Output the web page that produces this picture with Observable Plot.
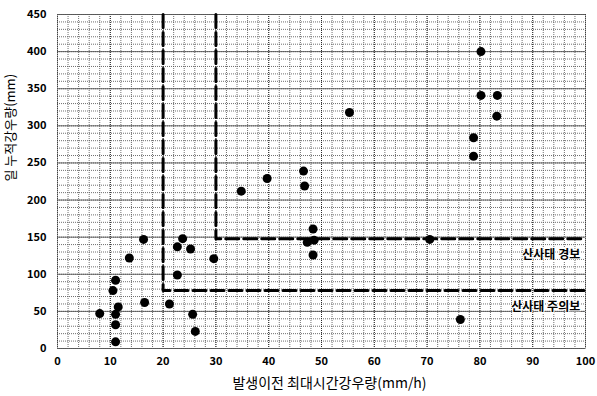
<!DOCTYPE html>
<html>
<head>
<meta charset="utf-8">
<script src="https://cdn.jsdelivr.net/npm/d3@7"></script>
<script src="https://cdn.jsdelivr.net/npm/@observablehq/plot@0.6"></script>
<style>
  html, body { margin: 0; padding: 0; background: #fff; }
  #chart svg { display: block; }
</style>
</head>
<body>
<div id="chart"></div>
<script>
// Observed events: max hourly rainfall before occurrence (mm/h), cumulative rainfall (mm)
const hourlyRain = [8, 10.5, 11, 11.5, 11, 11, 11, 13.6, 16.3, 16.5, 21.2, 22.7, 22.7, 23.7, 25.2, 25.6, 26.1,
  29.6, 34.8, 39.7, 46.6, 46.8, 48.4, 47.3, 48.6, 48.4, 55.3, 70.5, 76.3, 80.2, 80.2, 83.3, 83.2, 78.8, 78.8];
const cumRain = [47, 78, 92, 56, 46, 32, 9, 122, 147, 62, 60, 99, 137, 148, 134, 46, 23,
  121, 212, 229, 239, 219, 161, 143, 146, 126, 318, 147, 39, 400, 341, 341, 313, 284, 259];

// Threshold lines
const advisoryX = 20, advisoryY = 78;   // 산사태 주의보
const warningX = 30, warningY = 148;    // 산사태 경보
const yTop = 450, xRight = 100;

const xTicks = d3.range(0, 101, 10);
const yTicks = d3.range(0, 451, 50);
const xLabel = "발생이전 최대시간강우량(mm/h)";
const yLabel = "일 누적강우량(mm)";
const warningLabel = "산사태 경보";
const advisoryLabel = "산사태 주의보";

const points = hourlyRain.map((x, i) => ({x, y: cumRain[i]}));
const advisoryLine = [{x: advisoryX, y: yTop}, {x: advisoryX, y: advisoryY}, {x: xRight, y: advisoryY}];
const warningLine = [{x: warningX, y: yTop}, {x: warningX, y: warningY}, {x: xRight, y: warningY}];

const font = "'Noto Sans CJK KR', 'Noto Sans', sans-serif";

const chart = Plot.plot({
  width: 597,
  height: 396,
  marginLeft: 57,
  marginRight: 12,
  marginTop: 14,
  marginBottom: 48,
  style: {fontFamily: font, background: "#fff", color: "#000"},
  x: {domain: [0, 100]},
  y: {domain: [0, 450]},
  marks: [
    // minor grid
    Plot.gridX(d3.range(0, 101, 2), {stroke: "#555", strokeOpacity: 0.85, strokeDasharray: "1,1", strokeWidth: 1}),
    Plot.gridY(d3.range(0, 451, 10), {stroke: "#555", strokeOpacity: 0.85, strokeDasharray: "1,1", strokeWidth: 1}),
    // major grid
    Plot.gridX(xTicks, {stroke: "#222", strokeOpacity: 0.9, strokeDasharray: "1,1", strokeWidth: 1}),
    Plot.gridY(yTicks, {stroke: "#555", strokeOpacity: 0.9, strokeWidth: 1}),
    Plot.frame({stroke: "#555", strokeDasharray: "1,1"}),
    // threshold lines
    Plot.line(advisoryLine, {x: "x", y: "y", stroke: "#000", strokeWidth: 3, strokeDasharray: "13,5"}),
    Plot.line(warningLine, {x: "x", y: "y", stroke: "#000", strokeWidth: 3, strokeDasharray: "13,5"}),
    // points
    Plot.dot(points, {x: "x", y: "y", r: 4.5, fill: "#000", stroke: "none"}),
    // threshold labels
    Plot.text([warningLabel], {x: 99, y: 126, text: d => d, textAnchor: "end", fontSize: 12, fontWeight: "bold", fill: "#000", stroke: "#fff", strokeWidth: 2}),
    Plot.text([advisoryLabel], {x: 99, y: 56, text: d => d, textAnchor: "end", fontSize: 12, fontWeight: "bold", fill: "#000", stroke: "#fff", strokeWidth: 2}),
    // axes
    Plot.axisX(xTicks, {tickSize: 0, tickPadding: 9, fontSize: 11, fontWeight: "bold", label: null}),
    Plot.axisY(yTicks, {tickSize: 0, tickPadding: 11, fontSize: 11, fontWeight: "bold", label: null}),
    // axis titles
    Plot.text([xLabel], {frameAnchor: "bottom", dy: 39, dx: 8, text: d => d, fontSize: 14, fill: "#000"}),
    Plot.text([yLabel], {frameAnchor: "left", dx: -47, rotate: -90, text: d => d, fontSize: 13, fill: "#000"})
  ]
});
document.getElementById("chart").appendChild(chart);
</script>
</body>
</html>
